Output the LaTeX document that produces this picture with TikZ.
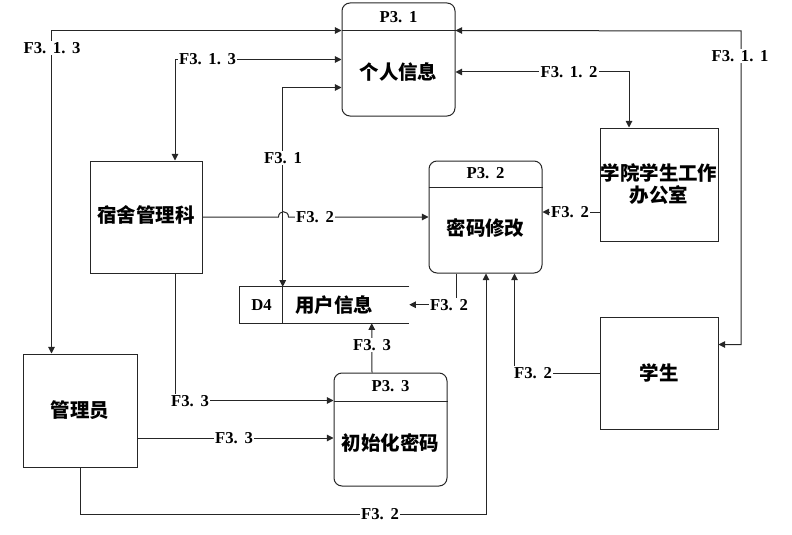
\documentclass[tikz,border=0pt]{standalone}
\usepackage{fontspec}
\newfontfamily\cjk{Noto Sans CJK SC}
\newfontfamily\lat{Liberation Serif}
\newcommand\dt{.\hspace{5pt}}
\usetikzlibrary{arrows.meta,calc}
\begin{document}
\begin{tikzpicture}[x=0.75pt,y=-0.75pt,
  ln/.style={draw=black!85,line width=0.75pt},
  tip/.tip={Triangle[length=5pt,width=5pt]},
  arr/.style={ln,-tip},
  biarr/.style={ln,tip-tip},
  box/.style={draw=black!85,line width=0.75pt,inner sep=0pt},
  proc/.style={box,rounded corners=6pt},
  ctext/.style={font=\cjk\bfseries\fontsize{14.6}{16.5}\selectfont,inner sep=0pt,align=center},
  lbl/.style={fill=white,inner sep=1pt,font=\lat\bfseries\fontsize{12.5}{14}\selectfont},
  hdr/.style={inner sep=0pt,font=\lat\bfseries\fontsize{12.5}{14}\selectfont}]
\useasboundingbox (0,0) rectangle (792,535);

% boxes
\node[proc,minimum width=84.75pt,minimum height=84.75pt] (p31) at (398.5,59.5) {};
\node[proc,minimum width=84.75pt,minimum height=84pt] (p32) at (485.5,217) {};
\node[proc,minimum width=84.75pt,minimum height=84.75pt] (p33) at (390.5,429.5) {};
\node[box,minimum width=88.5pt,minimum height=84.75pt] (xy) at (659,184.5) {};
\node[box,minimum width=88.5pt,minimum height=84pt] (xs) at (659,373) {};
\node[box,minimum width=84pt,minimum height=84pt] (ss) at (146,217) {};
\node[box,minimum width=85.5pt,minimum height=84.75pt] (gly) at (80,410.5) {};
\node[minimum width=126.75pt,minimum height=27pt,inner sep=0pt] (d4) at (324.5,305) {};

% dividers
\draw[ln] ($(p31.north west)+(0,28)$) -- ($(p31.north east)+(0,28)$);
\draw[ln] ($(p32.north west)+(0,27)$) -- ($(p32.north east)+(0,27)$);
\draw[ln] ($(p33.north west)+(0,29)$) -- ($(p33.north east)+(0,29)$);
\draw[ln] (d4.north east) -- (d4.north west) -- (d4.south west) -- (d4.south east);
\draw[ln] ($(d4.north west)+(43,0)$) -- ($(d4.south west)+(43,0)$);

% texts
\node[hdr] (p31h) at (398.5,17) {P3\dt1};
\node[ctext] (p31t) at (398.5,72) {个人信息};
\node[hdr] (p32h) at (485.5,173) {P3\dt2};
\node[ctext] (p32t) at (485.5,228) {密码修改};
\node[hdr] (p33h) at (390.5,386) {P3\dt3};
\node[ctext] (p33t) at (390.5,443) {初始化密码};
\node[ctext] (xyt) at (659,184) {学院学生工作\\办公室};
\node[ctext] (xst) at (659,373) {学生};
\node[ctext] (sst) at (146,215) {宿舍管理科};
\node[ctext] (glyt) at (80,410) {管理员};
\node[hdr] (d4a) at (261.5,305) {D4};
\node[ctext] (d4b) at (334,305) {用户信息};

% connectors
\coordinate (c5) at (741,31);
\draw[biarr] ($(gly.north west)+(29,0)$) |- ($(p31.north west)+(0,28)$);
\draw[biarr] ($(ss.north)+(29,0)$) |- (p31.west);
\draw[biarr] ($(d4.north west)+(43,0)$) |- ($(p31.west)+(0,28)$);
\draw[biarr] ($(p31.east)+(0,12.5)$) -| ($(xy.north)+(-30,0)$);
\draw[biarr] ($(p31.north east)+(0,28)$) -- (c5) |- ($(xs.north east)+(0,28)$);
\draw[arr] (ss.east) -- ($(ss.east)+(76,0)$)
   .. controls ($(ss.east)+(76,-7)$) and ($(ss.east)+(86,-7)$) .. ($(ss.east)+(86,0)$)
   -- (p32.west);
\draw[arr] ($(xy.west)+(0,27.5)$) -- ($(p32.east)+(0,-5)$);
\draw[arr] ($(p32.south west)+(28,0)$) |- ($(d4.north east)+(0,18)$);
\draw[arr] ($(p33.north)+(-18.5,0)$) -- ($(d4.south west)+(132,0)$);
\draw[arr] ($(ss.south)+(29,0)$) |- ($(p33.north west)+(0,28)$);
\draw[arr] ($(gly.east)+(0,27.5)$) -- ($(p33.west)+(0,8.5)$);
\draw[arr] (gly.south) -- ($(gly.south)+(0,47)$) -| ($(p32.south)+(0.5,0)$);
\draw[arr] (xs.west) -| ($(p32.south east)+(-28,0)$);

% labels
\node[lbl] (l1) at (52,48) {F3\dt1\dt3};
\node[lbl] (l2) at (207.5,59) {F3\dt1\dt3};
\node[lbl] (l3) at (283,158) {F3\dt1};
\node[lbl] (l4) at (569,72) {F3\dt1\dt2};
\node[lbl] (l5) at (740,56) {F3\dt1\dt1};
\node[lbl] (l6) at (315,217) {F3\dt2};
\node[lbl] (l7) at (570,212) {F3\dt2};
\node[lbl] (l8) at (449,305) {F3\dt2};
\node[lbl] (l9) at (372,345) {F3\dt3};
\node[lbl] (l10) at (190,401) {F3\dt3};
\node[lbl] (l11) at (234,438) {F3\dt3};
\node[lbl] (l12) at (380,514) {F3\dt2};
\node[lbl] (l13) at (533,373) {F3\dt2};
\end{tikzpicture}
\end{document}
